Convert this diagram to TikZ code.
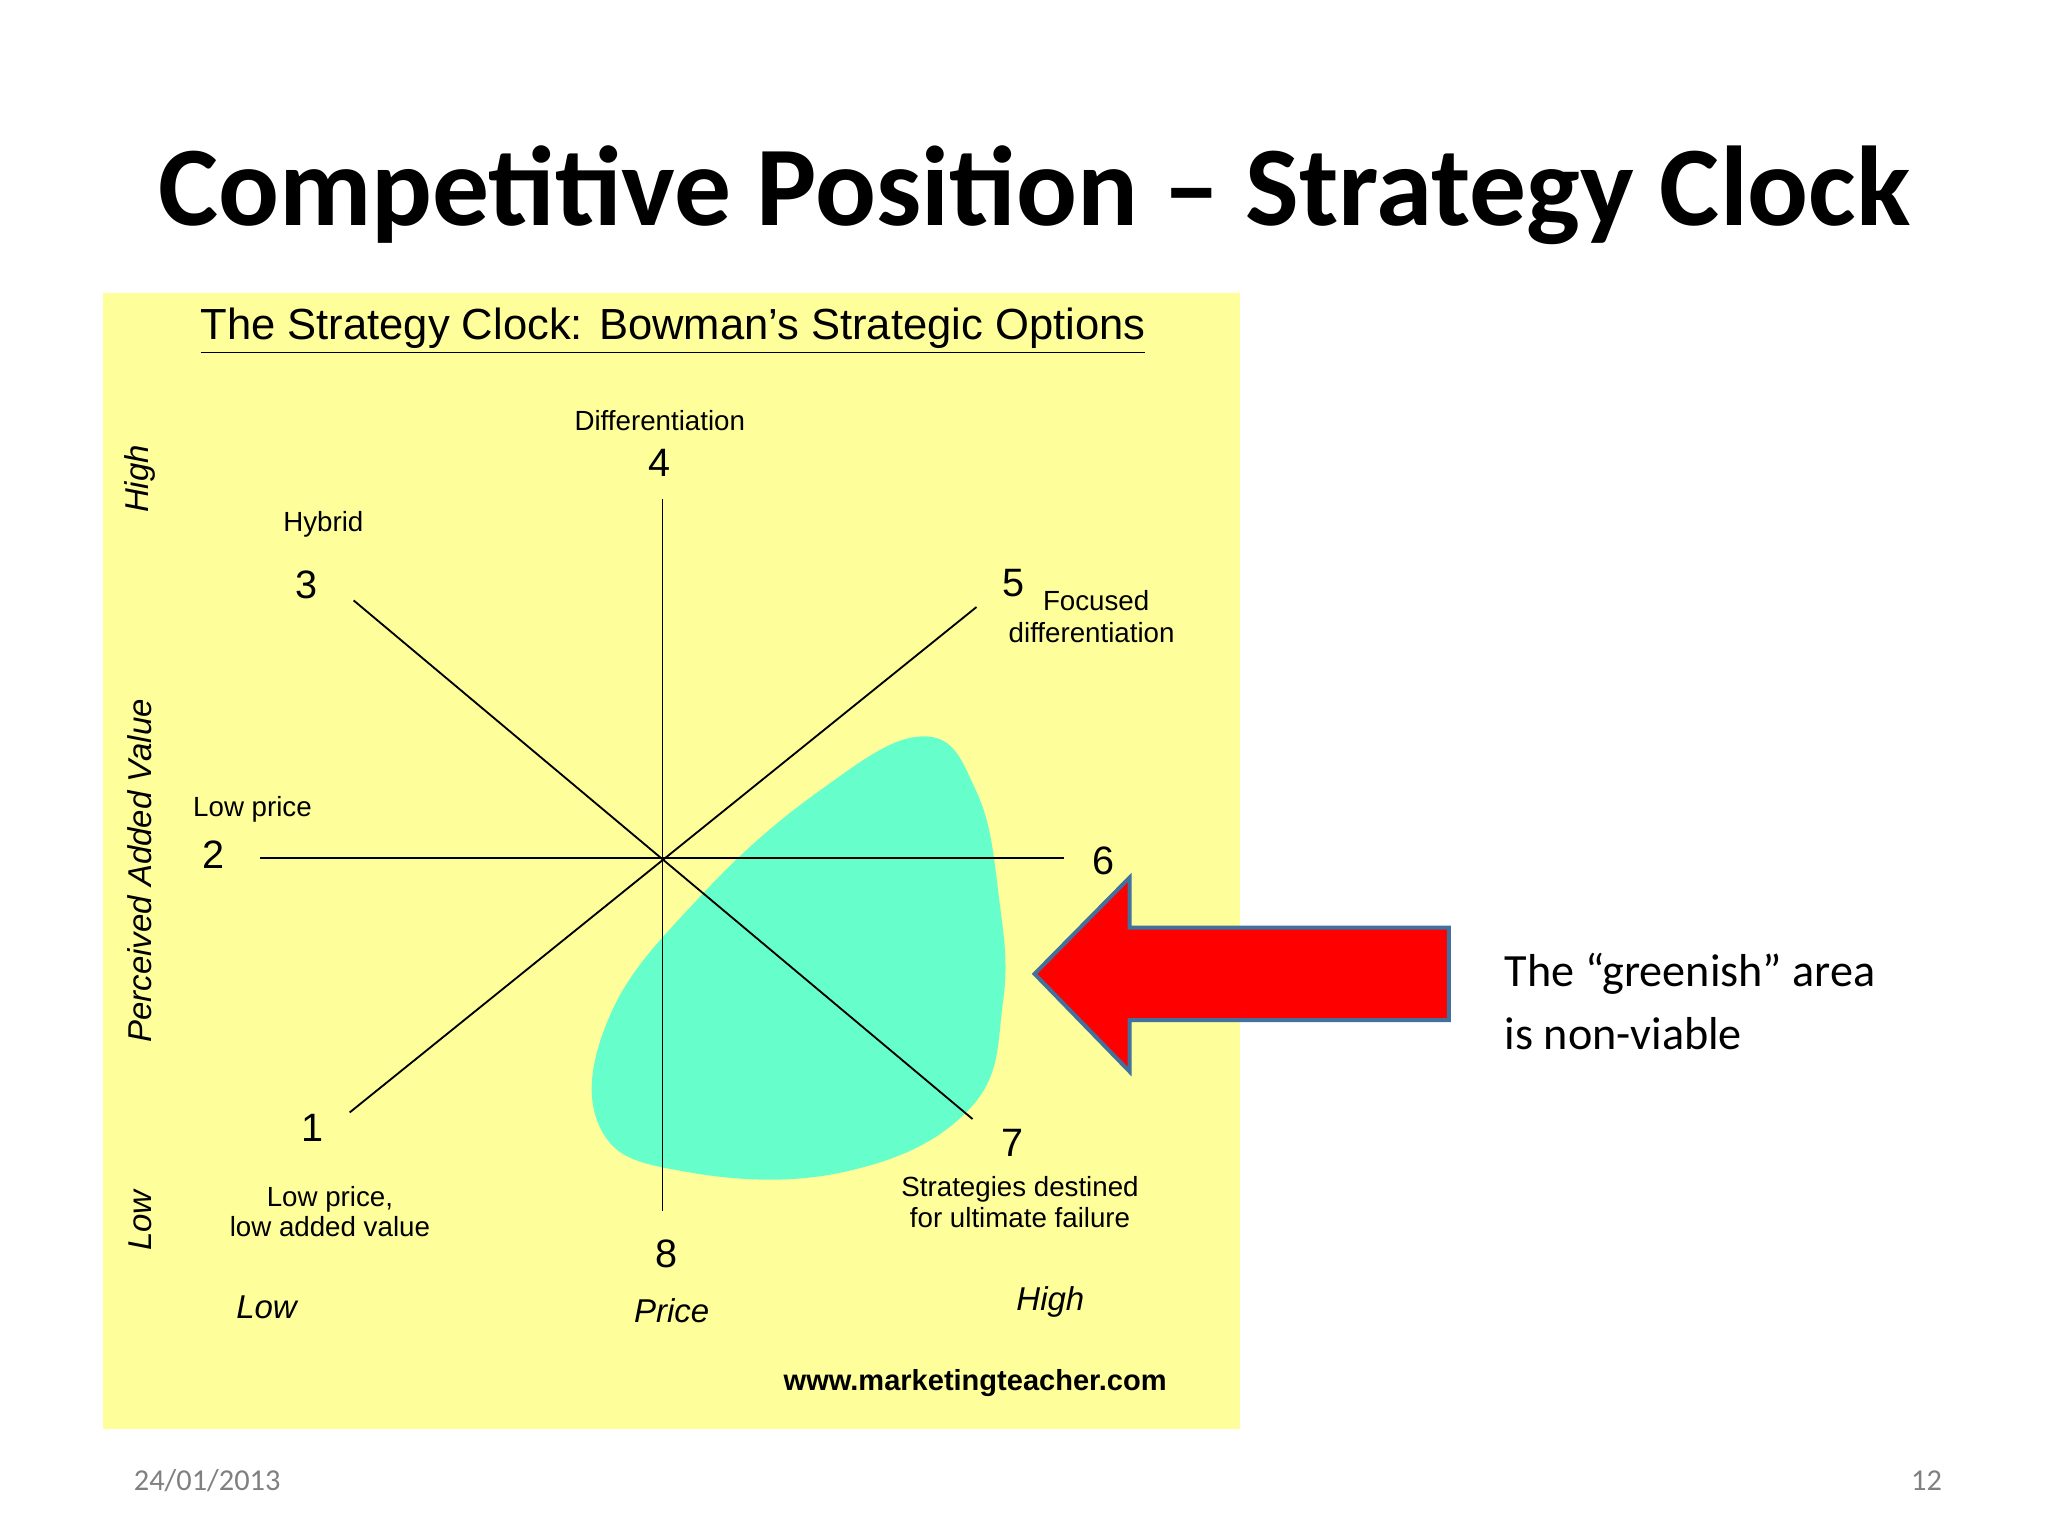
\documentclass[tikz,border=0pt]{standalone}
\usepackage{fontspec}
\setmainfont{Liberation Sans}
\newfontfamily\calfont{Carlito}
\definecolor{paleyel}{RGB}{254,254,154}
\definecolor{mint}{RGB}{102,255,204}
\definecolor{edgeblue}{RGB}{65,113,156}
\begin{document}
\begin{tikzpicture}[x=0.5pt,y=-0.5pt,
  lbl/.style={inner sep=0pt,font=\fontsize{10.5}{11.5}\selectfont,align=center},
  num/.style={inner sep=0pt,font=\fontsize{15}{16}\selectfont},
  ax/.style={inner sep=0pt,font=\fontsize{12.5}{13}\selectfont\itshape},
  ln/.style={line width=0.7pt}]
\useasboundingbox (0,0) rectangle (1552,1164);
\fill[white] (0,0) rectangle (1552,1164);
\node[inner sep=0pt,font=\calfont\bfseries\fontsize{43}{45}\selectfont] (title) at (784,148) {Competitive Position – Strategy Clock};
\fill[paleyel] (78,222) rectangle (940,1083);
\fill[mint] plot[smooth cycle,tension=0.7] coordinates {(700,558) (740,600) (757,680) (760,760) (735,840) (640,888) (520,888) (455,855) (462,770) (530,680) (620,600)};
\node[inner sep=0pt,font=\fontsize{16.5}{17}\selectfont] (ttl) at (510,251) {\underline{The Strategy Clock: Bowman's Strategic Options}};
\coordinate (c) at (502,650);
\coordinate (e4) at (502,378); \coordinate (e8) at (502,918);
\coordinate (e2) at (197,650); \coordinate (e6) at (806,650);
\coordinate (e3) at (268,455); \coordinate (e7) at (737,848);
\coordinate (e5) at (740,460); \coordinate (e1) at (265,843);
\draw[ln] (e4)--(e8); \draw[ln] (e2)--(e6); \draw[ln] (e3)--(e7); \draw[ln] (e5)--(e1);
\node[lbl] (l4) at (500,319) {Differentiation};
\node[num] (n4) at (500,351) {4};
\node[lbl] (l3) at (245,397) {Hybrid};
\node[num] (n3) at (232,443) {3};
\node[num] (n5) at (768,442) {5};
\node[lbl,anchor=west] (l5) at (790,455) {Focused};
\node[lbl,anchor=west] (l5b) at (764,479) {differentiation};
\node[lbl,anchor=west] (l2) at (146,613) {Low price};
\node[num] (n2) at (162,648) {2};
\node[num] (n6) at (836,652) {6};
\node[num] (n1) at (237,855) {1};
\node[lbl] (l1) at (250,918) {Low price,\\low added value};
\node[num] (n7) at (767,866) {7};
\node[lbl] (l7) at (773,911) {Strategies destined\\for ultimate failure};
\node[num] (n8) at (505,950) {8};
\node[ax] (xl) at (202,991) {Low};
\node[ax] (xp) at (509,993) {Price};
\node[ax] (xh) at (796,987) {High};
\node[ax,rotate=90] (yh) at (106,363) {High};
\node[ax,rotate=90] (yp) at (106,660) {Perceived Added Value};
\node[ax,rotate=90] (yl) at (106,925) {Low};
\node[inner sep=0pt,font=\bfseries\fontsize{11}{12}\selectfont] (url) at (739,1048) {www.marketingteacher.com};
\draw[fill=red,draw=edgeblue,line width=1.5pt] (784,738)--(856,665)--(856,703)--(1098,703)--(1098,773)--(856,773)--(856,812)--cycle;
\node[inner sep=0pt,anchor=north west,align=left,font=\calfont\fontsize{17.5}{24}\selectfont] (note) at (1140,722) {The “greenish” area\\is non-viable};
\node[inner sep=0pt,font=\calfont\fontsize{11.5}{12}\selectfont,text=gray] (date) at (157,1122) {24/01/2013};
\node[inner sep=0pt,font=\calfont\fontsize{11.5}{12}\selectfont,text=gray] (pg) at (1460,1122) {12};
\end{tikzpicture}
\end{document}
